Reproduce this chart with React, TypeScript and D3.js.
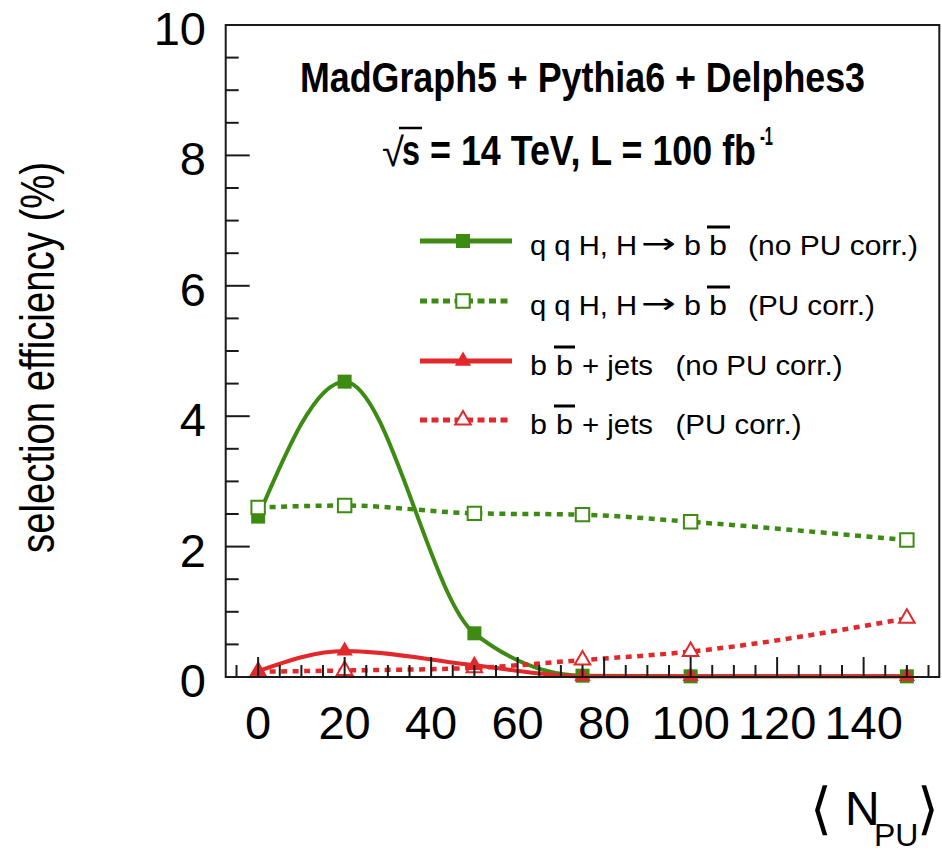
import React from "react";
import * as d3 from "d3";

// Mean pile-up values and selection efficiencies (%)
const nPU = [0, 20, 50, 75, 100, 150];
const qqHNoCorr = [2.46, 4.53, 0.67, 0.02, 0.01, 0.01];
const qqHCorr = [2.6, 2.63, 2.51, 2.49, 2.38, 2.1];
const bbNoCorr = [0.09, 0.4, 0.18, 0.01, 0.01, 0.01];
const bbCorr = [0.08, 0.1, 0.14, 0.26, 0.39, 0.9];

const xMajorTicks = [0, 20, 40, 60, 80, 100, 120, 140];
const yMajorTicks = [0, 2, 4, 6, 8, 10];

const GREEN = "#3d8b12";
const RED = "#e3282b";
const FONT = "'Liberation Sans', Arial, Helvetica, sans-serif";
const SYMBOL_FONT = "'DejaVu Sans', sans-serif";

const W = 942;
const H = 852;

type Series = {
  values: number[];
  color: string;
  dashed: boolean;
  marker: "square" | "triangle";
  filled: boolean;
};

const series: Series[] = [
  { values: qqHNoCorr, color: GREEN, dashed: false, marker: "square", filled: true },
  { values: qqHCorr, color: GREEN, dashed: true, marker: "square", filled: false },
  { values: bbCorr, color: RED, dashed: true, marker: "triangle", filled: false },
  { values: bbNoCorr, color: RED, dashed: false, marker: "triangle", filled: true },
];

function Marker({ cx, cy, s }: { cx: number; cy: number; s: Series }) {
  const path =
    s.marker === "square"
      ? d3.symbol(d3.symbolSquare, s.filled ? 196 : 180)()
      : d3.symbol(d3.symbolTriangle, s.filled ? 115 : 105)();
  return (
    <path
      d={path || ""}
      transform={`translate(${cx},${cy})`}
      fill={s.filled ? s.color : "white"}
      stroke={s.color}
      strokeWidth={s.filled ? 0 : 2}
    />
  );
}

export default function App() {
  const x = d3.scaleLinear().domain([-7.5, 157.5]).range([225.7, 939.3]);
  const y = d3.scaleLinear().domain([0, 10]).range([677, 25]);

  const line = d3
    .line<number>()
    .x((_, i) => x(nPU[i]))
    .y((v) => y(v))
    .curve(d3.curveMonotoneX);

  const xMinor = d3.range(-5, 157.5, 5).filter((v) => v % 20 !== 0);
  const yMinor = d3.range(0, 10.01, 0.5).filter((v) => Math.abs(v % 2) > 1e-6);

  const [x0, x1] = x.range();
  const [y0, y1] = y.range();

  const legendRows = [
    { s: series[0], y: 241 },
    { s: series[1], y: 301 },
    { s: series[3], y: 361 },
    { s: series[2], y: 420 },
  ];

  return (
    <svg
      width={W}
      height={H}
      style={{ position: "absolute", left: 0, top: 0, background: "white" }}
      fontFamily={FONT}
    >
      <rect x={0} y={0} width={W} height={H} fill="white" />

      {/* curves */}
      {series.map((s, k) => (
        <path
          key={`l${k}`}
          d={line(s.values) || ""}
          fill="none"
          stroke={s.color}
          strokeWidth={s.dashed ? 4.5 : 4}
          strokeDasharray={s.dashed ? "6,5.5" : undefined}
        />
      ))}
      {/* markers */}
      {series.map((s, k) =>
        s.values.map((v, i) => (
          <Marker key={`m${k}-${i}`} cx={x(nPU[i])} cy={y(v)} s={s} />
        ))
      )}

      {/* frame */}
      <rect
        x={x0}
        y={y1}
        width={x1 - x0}
        height={y0 - y1}
        fill="none"
        stroke="#1a1a1a"
        strokeWidth={2}
      />

      {/* x ticks */}
      {xMajorTicks.map((v) => (
        <line key={`xt${v}`} x1={x(v)} x2={x(v)} y1={y0} y2={y0 - 20} stroke="#1a1a1a" strokeWidth={2} />
      ))}
      {xMinor.map((v) => (
        <line key={`xm${v}`} x1={x(v)} x2={x(v)} y1={y0} y2={y0 - 12} stroke="#1a1a1a" strokeWidth={2} />
      ))}
      {xMajorTicks.map((v) => (
        <text key={`xl${v}`} x={x(v)} y={739} fontSize={47} textAnchor="middle" fill="#000">
          {v}
        </text>
      ))}

      {/* y ticks */}
      {yMajorTicks.map((v) => (
        <line key={`yt${v}`} x1={x0} x2={x0 + 24} y1={y(v)} y2={y(v)} stroke="#1a1a1a" strokeWidth={2} />
      ))}
      {yMinor.map((v) => (
        <line key={`ym${v}`} x1={x0} x2={x0 + 13} y1={y(v)} y2={y(v)} stroke="#1a1a1a" strokeWidth={2} />
      ))}
      {yMajorTicks.map((v) => (
        <text key={`yl${v}`} x={206} y={y(v) + 20} fontSize={47} textAnchor="end" fill="#000">
          {v}
        </text>
      ))}

      {/* axis titles */}
      <text
        transform="translate(54,553) rotate(-90)"
        fontSize={48}
        textLength={391}
        lengthAdjust="spacingAndGlyphs"
        fill="#000"
      >
        selection efficiency (%)
      </text>
      <text x={810} y={828} fontSize={56} fontFamily={SYMBOL_FONT} fill="#000">
        ⟨
      </text>
      <text x={845} y={825} fontSize={48} fill="#000">
        N
      </text>
      <text x={874} y={846} fontSize={32} fill="#000">
        PU
      </text>
      <text x={917} y={828} fontSize={56} fontFamily={SYMBOL_FONT} fill="#000">
        ⟩
      </text>

      {/* header */}
      <text
        x={300}
        y={92}
        fontSize={42}
        fontWeight="bold"
        textLength={565}
        lengthAdjust="spacingAndGlyphs"
        fill="#000"
      >
        MadGraph5 + Pythia6 + Delphes3
      </text>
      <text x={382} y={166} fontSize={40} fill="#000">
        √
      </text>
      <line x1={399} x2={422} y1={128} y2={128} stroke="#000" strokeWidth={2.5} />
      <text x={402} y={165} fontSize={42} fontWeight="bold" textLength={18} lengthAdjust="spacingAndGlyphs" fill="#000">
        s
      </text>
      <text
        x={430}
        y={165}
        fontSize={42}
        fontWeight="bold"
        textLength={326}
        lengthAdjust="spacingAndGlyphs"
        fill="#000"
      >
        = 14 TeV, L = 100 fb
      </text>
      <text x={760} y={145} fontSize={26} fontWeight="bold" textLength={13} lengthAdjust="spacingAndGlyphs" fill="#000">
        -1
      </text>

      {/* legend */}
      {legendRows.map(({ s, y: ry }, i) => (
        <g key={`lg${i}`}>
          <line
            x1={420}
            x2={512}
            y1={ry}
            y2={ry}
            stroke={s.color}
            strokeWidth={5}
            strokeDasharray={s.dashed ? "7,4.5" : undefined}
          />
          <Marker cx={463} cy={ry} s={s} />
        </g>
      ))}
      {[241, 301].map((ry, i) => (
        <g key={`qq${i}`}>
          <text x={530} y={ry + 14} fontSize={28} textLength={107} lengthAdjust="spacingAndGlyphs" fill="#000">
            q q H, H
          </text>
          <text
            x={641}
            y={ry + 12}
            fontSize={28}
            fontFamily={SYMBOL_FONT}
            textLength={35}
            lengthAdjust="spacingAndGlyphs"
            fill="#000"
          >
            →
          </text>
          <text x={684} y={ry + 14} fontSize={28} textLength={17} lengthAdjust="spacingAndGlyphs" fill="#000">
            b
          </text>
          <text x={709} y={ry + 14} fontSize={28} textLength={18} lengthAdjust="spacingAndGlyphs" fill="#000">
            b
          </text>
          <line x1={707} x2={730} y1={ry - 14} y2={ry - 14} stroke="#000" strokeWidth={3} />
          <text
            x={748}
            y={ry + 14}
            fontSize={28}
            textLength={i === 0 ? 170 : 127}
            lengthAdjust="spacingAndGlyphs"
            fill="#000"
          >
            {i === 0 ? "(no PU corr.)" : "(PU corr.)"}
          </text>
        </g>
      ))}
      {[361, 420].map((ry, i) => (
        <g key={`bb${i}`}>
          <text x={530} y={ry + 14} fontSize={28} textLength={17} lengthAdjust="spacingAndGlyphs" fill="#000">
            b
          </text>
          <text x={556} y={ry + 14} fontSize={28} textLength={17} lengthAdjust="spacingAndGlyphs" fill="#000">
            b
          </text>
          <line x1={554} x2={575} y1={ry - 14} y2={ry - 14} stroke="#000" strokeWidth={3} />
          <text x={582} y={ry + 14} fontSize={28} textLength={71} lengthAdjust="spacingAndGlyphs" fill="#000">
            + jets
          </text>
          <text
            x={675.5}
            y={ry + 14}
            fontSize={28}
            textLength={i === 0 ? 167 : 126}
            lengthAdjust="spacingAndGlyphs"
            fill="#000"
          >
            {i === 0 ? "(no PU corr.)" : "(PU corr.)"}
          </text>
        </g>
      ))}
    </svg>
  );
}
